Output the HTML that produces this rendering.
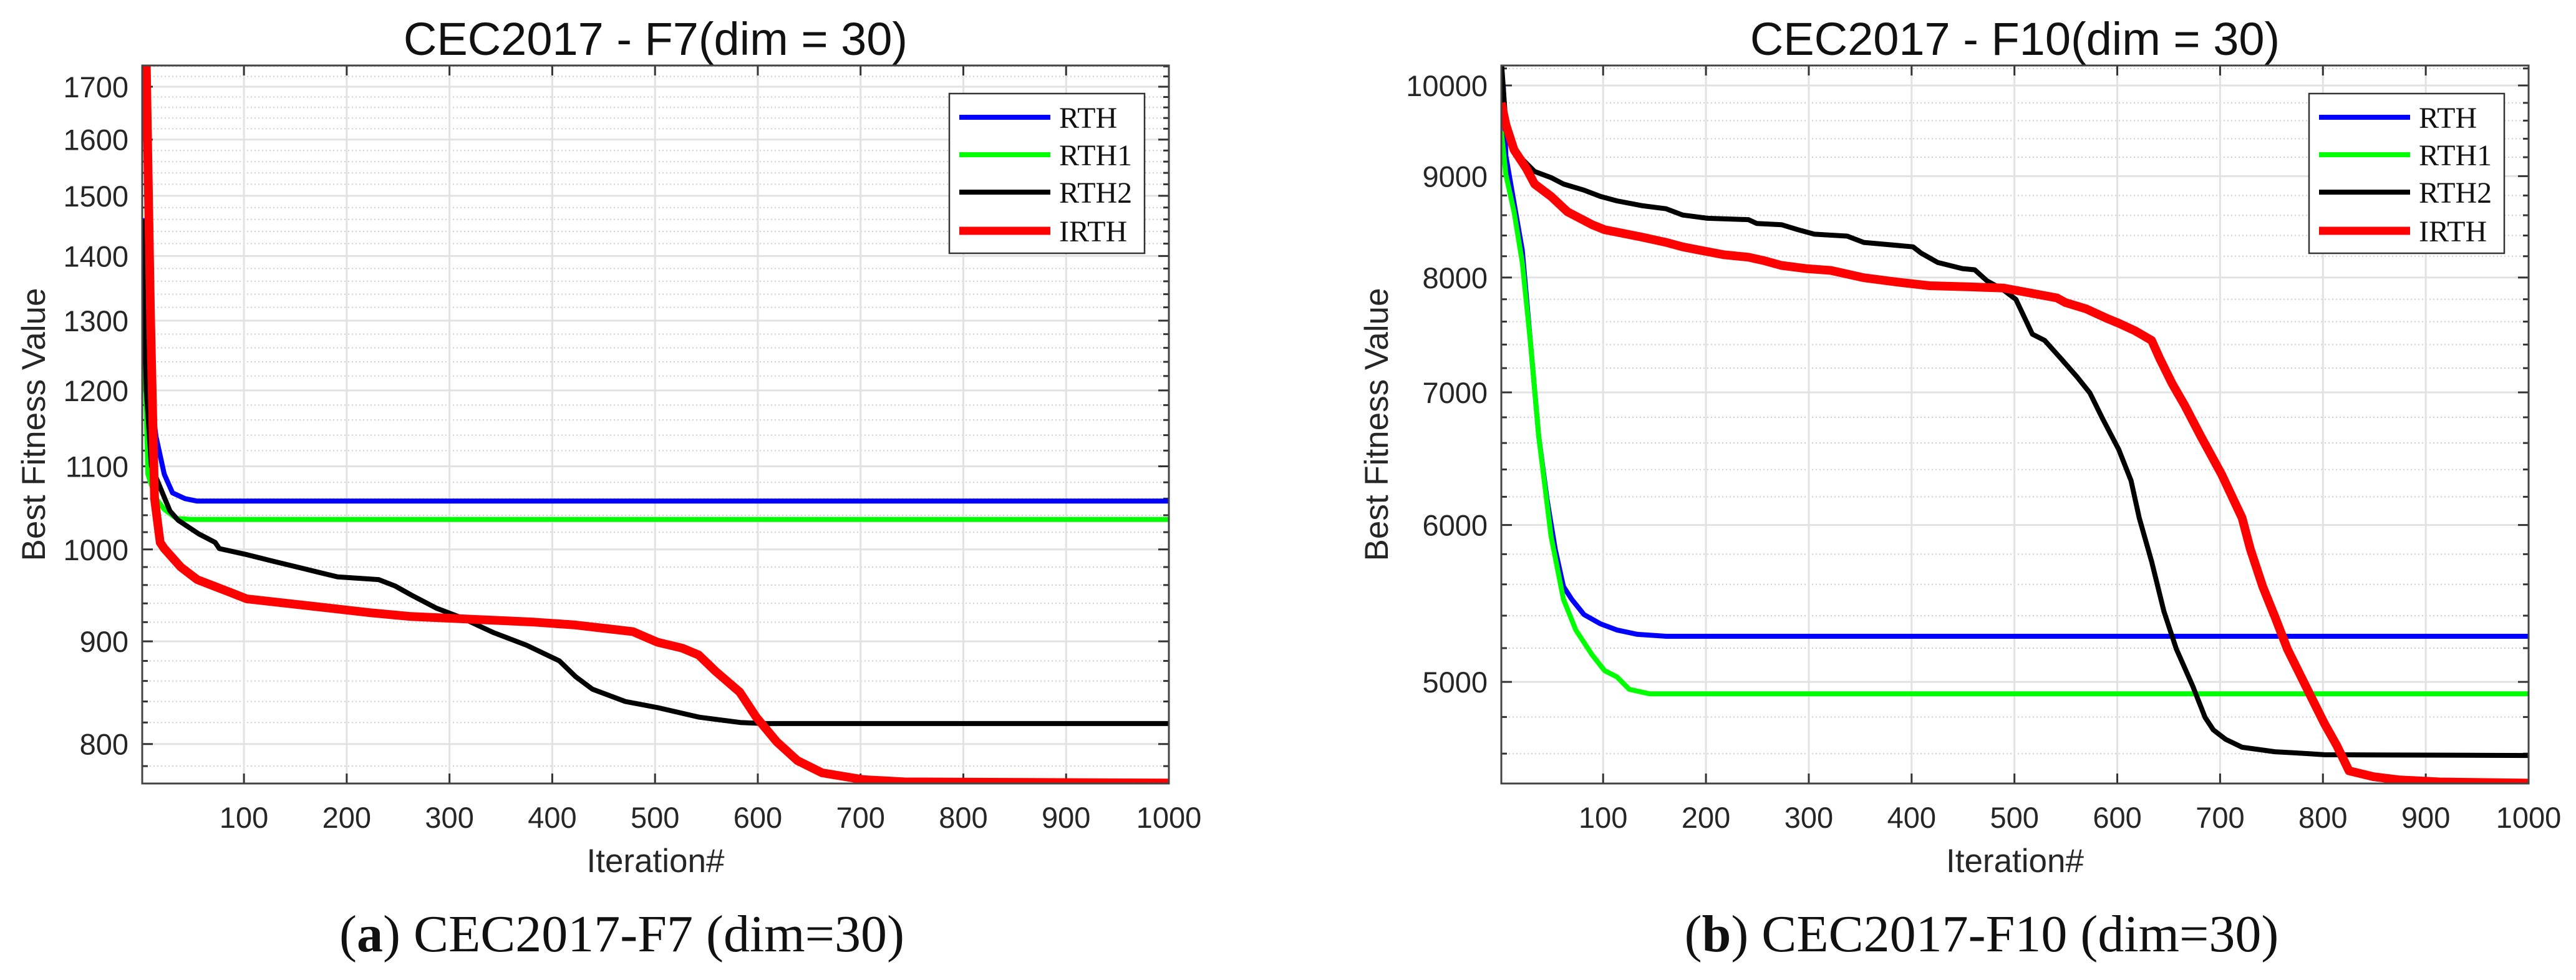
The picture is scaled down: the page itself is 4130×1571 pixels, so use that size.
<!DOCTYPE html>
<html><head><meta charset="utf-8">
<style>
html,body{margin:0;padding:0;background:#fff;}
svg{display:block;}
</style></head>
<body>
<svg id="fig" xmlns="http://www.w3.org/2000/svg" width="4130" height="1571" viewBox="0 0 4130 1571">
<rect x="0" y="0" width="4130" height="1571" fill="#fff"/>
</svg>
<script>
// ---- Panel (a): CEC2017 F7 ----
const f7Iter = {
  RTH:  [1, 9, 14.5, 22.5, 30.5, 42.5, 54.5, 1000],
  RTH1: [1, 6.5, 14.5, 22.5, 34.5, 50, 1000],
  RTH2: [1, 5, 10, 28, 36, 56, 72, 76, 103, 127, 159, 191, 231, 247, 263, 287, 311, 343, 375, 407, 423, 439, 471, 503, 543, 583, 607, 1000],
  IRTH: [1, 5, 9, 13, 18.5, 22.5, 38.5, 54.5, 70.5, 86.5, 102.5, 142.5, 182.5, 222.5, 262.5, 302.5, 342.5, 382.5, 422.5, 454.5, 478.5, 502.5, 526.5, 542.5, 558.5, 582.5, 598.5, 618.5, 638.5, 662.5, 702.5, 742.5, 1000]
};
const f7Vals = {
  RTH:  [1462, 1197, 1138, 1090, 1067, 1060, 1057, 1057],
  RTH1: [1400, 1090, 1060, 1047, 1036, 1035, 1035],
  RTH2: [1460, 1200, 1100, 1045, 1034, 1018, 1008, 1001, 994, 987, 978, 969, 966, 959, 949, 935, 925, 909, 896, 880, 864, 852, 840, 834, 825, 820, 819, 819],
  IRTH: [1900, 1740, 1313, 1060, 1008, 1001, 980, 966, 959, 952, 945, 940, 935, 930, 926, 924, 922, 920, 917, 913, 910, 899, 893, 886, 870, 849, 825, 802, 785, 774, 768, 766, 765]
};
const f7YTicks = [800, 900, 1000, 1100, 1200, 1300, 1400, 1500, 1600, 1700];
const f7YMinor = [780,820,840,860,880,920,940,960,980,1020,1040,1060,1080,1120,1140,1160,1180,1220,1240,1260,1280,1320,1340,1360,1380,1420,1440,1460,1480,1520,1540,1560,1580,1620,1640,1660,1680,1720,1740];

// ---- Panel (b): CEC2017 F10 ----
const f10Iter = {
  RTH:  [1, 3, 5.4, 21.4, 29.4, 37.4, 45.4, 53.4, 61.4, 69.4, 81.4, 97.4, 113.4, 133.4, 161.4, 1000],
  RTH1: [1, 5.4, 13.4, 21.4, 29.4, 37.4, 49.4, 61.4, 73.4, 89.4, 101.4, 113.4, 125.4, 145.4, 1000],
  RTH2: [1, 5.4, 13.4, 21.4, 33.4, 49.4, 61.4, 81.4, 97.4, 113.4, 137.4, 161.4, 177.4, 201.4, 241.4, 249.4, 273.4, 289.4, 305.4, 337.4, 353.4, 401.4, 409.4, 425.4, 449.4, 461.4, 473.4, 489.4, 501.4, 517.4, 529.4, 545.4, 561.4, 573.4, 585.4, 601.4, 613.4, 621.4, 633.4, 645.4, 657.4, 673.4, 685.4, 693.4, 705.4, 721.4, 753.4, 785.4, 801.4, 1000],
  IRTH: [1, 5.4, 13.4, 25.4, 33.4, 49.4, 65.4, 89.4, 101.4, 113.4, 137.4, 161.4, 177.4, 193.4, 217.4, 241.4, 257.4, 273.4, 297.4, 321.4, 353.4, 385.4, 417.4, 457.4, 489.4, 541.4, 549.4, 569.4, 589.4, 601.4, 617.4, 633.4, 641.4, 653.4, 665.4, 681.4, 701.4, 721.4, 729.4, 741.4, 753.4, 765.4, 777.4, 789.4, 801.4, 813.4, 825.4, 849.4, 873.4, 913.4, 1000]
};
const f10Vals = {
  RTH:  [10000, 9978, 9215, 8259, 7414, 6650, 6185, 5834, 5586, 5504, 5407, 5349, 5311, 5284, 5272, 5272],
  RTH1: [9485, 9015, 8634, 8141, 7414, 6650, 5920, 5504, 5311, 5159, 5066, 5029, 4957, 4931, 4931],
  RTH2: [10300, 9556, 9280, 9179, 9049, 8985, 8918, 8855, 8790, 8745, 8697, 8665, 8602, 8570, 8556, 8518, 8506, 8457, 8413, 8394, 8333, 8290, 8229, 8141, 8083, 8072, 7968, 7884, 7799, 7490, 7436, 7279, 7122, 6995, 6794, 6551, 6318, 6049, 5751, 5426, 5195, 4975, 4798, 4729, 4677, 4634, 4610, 4600, 4594, 4590],
  IRTH: [9800, 9556, 9280, 9080, 8918, 8790, 8634, 8506, 8457, 8433, 8385, 8333, 8290, 8259, 8214, 8191, 8156, 8113, 8083, 8066, 7998, 7958, 7924, 7913, 7902, 7812, 7771, 7715, 7631, 7586, 7519, 7436, 7279, 7071, 6897, 6650, 6365, 6049, 5834, 5586, 5392, 5195, 5047, 4903, 4764, 4644, 4509, 4478, 4462, 4451, 4445]
};
const f10YTicks = [5000, 6000, 7000, 8000, 9000, 10000];
const f10YMinor = [4600,4800,5200,5400,5600,5800,6200,6400,6600,6800,7200,7400,7600,7800,8200,8400,8600,8800,9200,9400,9600,9800,10200];

const xTicks = [100, 200, 300, 400, 500, 600, 700, 800, 900, 1000];
const seriesNames = ['RTH', 'RTH1', 'RTH2', 'IRTH'];
const seriesColors = {RTH:'#0000ff', RTH1:'#00ff00', RTH2:'#000000', IRTH:'#ff0000'};
const seriesWidths = {RTH:8, RTH1:8, RTH2:8, IRTH:14};

const NS = 'http://www.w3.org/2000/svg';
const svg = document.getElementById('fig');
function mk(tag, attrs, parent) {
  const e = document.createElementNS(NS, tag);
  for (const k in attrs) e.setAttribute(k, attrs[k]);
  (parent || svg).appendChild(e);
  return e;
}

function drawPanel(p) {
  const g = mk('g', {});
  
  
  const L = p.left, R = p.right, T = p.top, B = p.bottom;
  const lyMin = Math.log10(p.yMin), lyMax = Math.log10(p.yMax);
  const sx = v => L + (v - 1) / 999 * (R - L);
  const sy = v => B - (Math.log10(v) - lyMin) / (lyMax - lyMin) * (B - T);

  // minor grid
  p.yMinor.forEach(v => {
    const y = sy(v);
    if (y < T || y > B) return;
    const ln = mk('line', {x1:L, x2:R, y1:y, y2:y, stroke:'#cfcfcf', 'stroke-width':2, 'stroke-dasharray':'2 4'}, g);
    
    
    const t1 = mk('line', {x1:L, x2:L+9, y1:y, y2:y, stroke:'#333', 'stroke-width':3}, g);
    
    
    const t2 = mk('line', {x1:R-9, x2:R, y1:y, y2:y, stroke:'#333', 'stroke-width':3}, g);
    
    
  });
  // major y grid + labels
  p.yTicks.forEach(v => {
    const y = sy(v);
    const ln = mk('line', {x1:L, x2:R, y1:y, y2:y, stroke:'#e2e2e2', 'stroke-width':3}, g);
    
    
    const t1 = mk('line', {x1:L, x2:L+17, y1:y, y2:y, stroke:'#333', 'stroke-width':3}, g);
    
    
    const t2 = mk('line', {x1:R-17, x2:R, y1:y, y2:y, stroke:'#333', 'stroke-width':3}, g);
    
    
    const tx = mk('text', {x:L-22, y:y+17, 'text-anchor':'end', 'font-family':'Liberation Sans, Arial, sans-serif', 'font-size':47, fill:'#262626'}, g);
    
    
    tx.textContent = String(v);
  });
  // x grid + labels
  xTicks.forEach(v => {
    const x = sx(v);
    const ln = mk('line', {x1:x, x2:x, y1:T, y2:B, stroke:'#e2e2e2', 'stroke-width':3}, g);
    
    
    const t1 = mk('line', {x1:x, x2:x, y1:B-16, y2:B, stroke:'#333', 'stroke-width':3}, g);
    
    
    const t2 = mk('line', {x1:x, x2:x, y1:T, y2:T+16, stroke:'#333', 'stroke-width':3}, g);
    
    
    const tx = mk('text', {x:x, y:1327, 'text-anchor':'middle', 'font-family':'Liberation Sans, Arial, sans-serif', 'font-size':47, fill:'#262626'}, g);
    
    
    tx.textContent = String(v);
  });
  // clip
  const cp = mk('clipPath', {id:'clip-' + p.id}, g);
  mk('rect', {x:L, y:T, width:R-L, height:B-T}, cp);
  const lines = mk('g', {'clip-path':'url(#clip-' + p.id + ')'}, g);
  
  
  seriesNames.forEach(n => {
    const xs = p.iters[n], ys = p.vals[n];
    const pts = xs.map((xv, i) => sx(xv).toFixed(1) + ',' + sy(ys[i]).toFixed(1)).join(' ');
    const pl = mk('polyline', {points:pts, fill:'none', stroke:seriesColors[n], 'stroke-width':seriesWidths[n], 'stroke-linejoin':'round', 'stroke-linecap':'butt'}, lines);
    
    
  });
  // frame
  const fr = mk('rect', {x:L, y:T, width:R-L, height:B-T, fill:'none', stroke:'#444', 'stroke-width':3}, g);
  
  
  // title
  const ti = mk('text', {x:(L+R)/2, y:88, 'text-anchor':'middle', 'font-family':'Liberation Sans, Arial, sans-serif', 'font-size':74, fill:'#111'}, g);
  
  
  ti.textContent = p.title;
  // axis labels
  const xl = mk('text', {x:(L+R)/2, y:1398, 'text-anchor':'middle', 'font-family':'Liberation Sans, Arial, sans-serif', 'font-size':53, fill:'#262626'}, g);
  
  
  xl.textContent = 'Iteration#';
  const yl = mk('text', {x:0, y:0, 'text-anchor':'middle', 'font-family':'Liberation Sans, Arial, sans-serif', 'font-size':53, fill:'#262626', transform:'translate(' + (p.ylabX + 19) + ',' + ((T+B)/2) + ') rotate(-90)'}, g);
  
  
  yl.textContent = 'Best Fitness Value';
  // legend
  const lg = mk('g', {}, g);
  
  
  mk('rect', {x:p.legX, y:150, width:313, height:256, fill:'#fff', stroke:'#333', 'stroke-width':2.5}, lg);
  const rowsY = [188, 248, 308, 370];
  seriesNames.forEach((n, i) => {
    const ent = mk('g', {}, lg);
    
    
    mk('line', {x1:p.legX+16, x2:p.legX+162, y1:rowsY[i], y2:rowsY[i], stroke:seriesColors[n], 'stroke-width':seriesWidths[n] === 14 ? 13 : 8}, ent);
    const t = mk('text', {x:p.legX+176, y:rowsY[i]+17, 'font-family':'Liberation Serif, Times New Roman, serif', 'font-size':48, fill:'#111'}, ent);
    t.textContent = n;
  });
  // caption
  const cap = mk('text', {x:p.capX, y:1525, 'text-anchor':'middle', 'font-family':'Liberation Serif, Times New Roman, serif', 'font-size':84, fill:'#111'}, g);
  
  
  const s1 = mk('tspan', {}, cap); s1.textContent = '(';
  const s2 = mk('tspan', {'font-weight':'bold'}, cap); s2.textContent = p.letter;
  const s3 = mk('tspan', {}, cap); s3.textContent = ') ' + p.caption;
}

drawPanel({id:'f7', left:228, right:1874, top:105, bottom:1256, yMin:764.6, yMax:1741.8,
  yTicks:f7YTicks, yMinor:f7YMinor, iters:f7Iter, vals:f7Vals,
  title:'CEC2017 - F7(dim = 30)', ylabX:53, legX:1522, capX:997, letter:'a', caption:'CEC2017-F7 (dim=30)'});
drawPanel({id:'f10', left:2407, right:4054, top:105, bottom:1256, yMin:4443, yMax:10235,
  yTicks:f10YTicks, yMinor:f10YMinor, iters:f10Iter, vals:f10Vals,
  title:'CEC2017 - F10(dim = 30)', ylabX:2206, legX:3702, capX:3177, letter:'b', caption:'CEC2017-F10 (dim=30)'});
</script>
</body></html>
